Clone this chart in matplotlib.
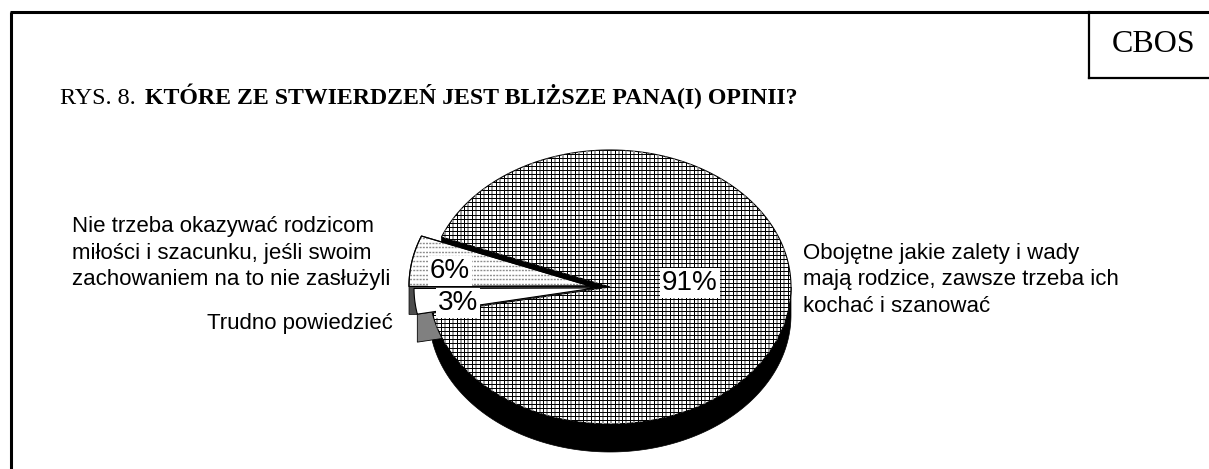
import numpy as np
import matplotlib
matplotlib.use("Agg")
from matplotlib import pyplot as plt
from matplotlib.patches import Polygon

# values
values = [91, 6, 3]
pct_labels = ["91%", "6%", "3%"]
label_91 = "Obojętne jakie zalety i wady\nmają rodzice, zawsze trzeba ich\nkochać i szanować"
label_6 = "Nie trzeba okazywać rodzicom\nmiłości i szacunku, jeśli swoim\nzachowaniem na to nie zasłużyli"
label_3 = "Trudno powiedzieć"
title_plain = "RYS. 8."
title_bold = "KTÓRE ZE STWIERDZEŃ JEST BLIŻSZE PANA(I) OPINII?"

start = 191.0
rx, ry, depth = 181, 137, 28
centers = [(610, 287), (590, 286), (595, 288)]

fig = plt.figure(figsize=(12.09, 4.69), dpi=100)
ax = fig.add_axes([0, 0, 1, 1])
ax.set_xlim(0, 1209)
ax.set_ylim(469, 0)
ax.axis("off")

# frame
ax.plot([11, 11], [469, 12], color="k", lw=2.2, solid_capstyle="butt")
ax.plot([10, 1209], [12, 12], color="k", lw=2.2, solid_capstyle="butt")
ax.plot([1089, 1089], [12, 78], color="k", lw=1.6)
ax.plot([1089, 1209], [78, 78], color="k", lw=1.6)
ax.text(1153.5, 44, "CBOS", family="Liberation Serif", fontsize=23, ha="center", va="center")

ax.text(60, 104, title_plain, family="Liberation Serif", fontsize=17.4, va="baseline")
ax.text(145, 104, title_bold, family="Liberation Serif", fontsize=17.2, weight="bold", va="baseline")

# slice angles from the shares
sweep = np.array(values) / sum(values) * 360
a0 = start + np.concatenate([[0], np.cumsum(sweep)[:-1]])
a1 = a0 + sweep

def arc(c, a, b, dy=0):
    th = np.radians(np.linspace(a, b, 200))
    return np.column_stack([c[0] + rx * np.cos(th), c[1] - ry * np.sin(th) + dy])

def top(i):
    return np.vstack([[centers[i]], arc(centers[i], a0[i], a1[i])])

def cut(c, a):
    p = arc(c, a, a + 1e-6)[0]
    return [c, p, (p[0], p[1] + depth), (c[0], c[1] + depth)]

# black side wall of the big slice
low = arc(centers[0], start, 360)
ax.add_patch(Polygon(np.vstack([low, (low + [0, depth])[::-1]]), fc="k", ec="k", lw=0.5, zorder=1))
ax.add_patch(Polygon(cut(centers[0], a1[0]), fc="k", ec="k", lw=0.5, zorder=1))

# cut faces of the pulled out slices
ax.add_patch(Polygon(cut(centers[1], a1[1]), fc="#4d4d4d", ec="k", lw=0.5, zorder=2))
ax.add_patch(Polygon(cut(centers[2], a1[2]), fc="#808080", ec="k", lw=0.6, zorder=2))

# big slice with woven pattern
big = Polygon(top(0), fc="white", ec="k", lw=0.8, zorder=3)
ax.add_patch(big)
ys = np.arange(146, 428, 4.03)
xs = np.arange(425, 795, 3.95)
for n, x in enumerate(xs):
    col, w = ("k", 0.72) if n % 2 == 0 else ("#9a9a9a", 1.44)
    ax.plot([x, x], [145, 428], color=col, lw=w, zorder=3.1, clip_path=big, antialiased=False)
for y in ys:
    ax.plot([425, 795], [y, y], color="k", lw=0.72, zorder=3.2, clip_path=big, antialiased=False)

# 6% slice with dotted lines
mid = Polygon(top(1), fc="white", ec="k", lw=0.8, zorder=4)
ax.add_patch(mid)
for y in np.arange(238, 288, 4.6):
    ax.plot([400, 610], [y, y], color="#8c8c8c", lw=1.0, ls=(0, (1.4, 0.9)), zorder=4.1, clip_path=mid)
ax.add_patch(Polygon(top(1), fc="none", ec="k", lw=0.8, zorder=4.2))

# 3% slice
ax.add_patch(Polygon(top(2), fc="white", ec="k", lw=0.8, zorder=5))

# percent labels
pct_pos = [(690, 283), (450, 271), (458, 303)]
for s, (x, y) in zip(pct_labels, pct_pos):
    ax.text(x, y, s, family="Liberation Sans", fontsize=20, ha="center", va="center", zorder=6,
            bbox=dict(fc="white", ec="none", pad=1.5))

# slice names
ax.text(803, 280, label_91, family="Liberation Sans", fontsize=16, va="center", linespacing=1.33)
ax.text(72, 253, label_6, family="Liberation Sans", fontsize=16, va="center", linespacing=1.33)
ax.text(207, 324, label_3, family="Liberation Sans", fontsize=16, va="center")

fig.savefig("out.png", dpi=100)
